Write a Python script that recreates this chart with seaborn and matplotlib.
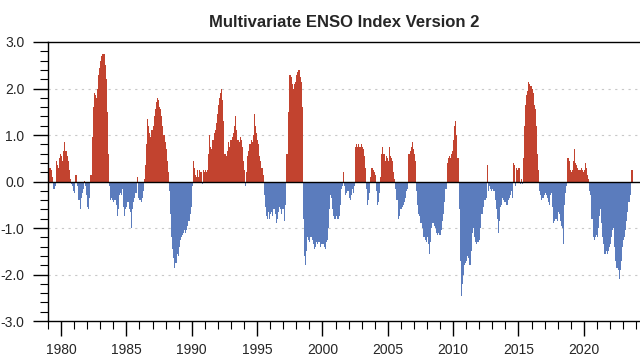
import numpy as np
import pandas as pd
import matplotlib
matplotlib.use("Agg")
import matplotlib.pyplot as plt
import seaborn as sns

# monthly MEI v2 values, Jan..Dec for each year
mei = {
    1979: [0.45, 0.30, 0.30, 0.25, 0.10, -0.15, -0.10, 0.45, 0.35, 0.30, 0.50, 0.60],
    1980: [0.55, 0.45, 0.65, 0.84, 0.65, 0.55, 0.45, 0.25, 0.05, -0.05, -0.10, -0.20],
    1981: [-0.25, 0.15, 0.15, -0.10, -0.40, -0.60, -0.35, -0.25, -0.15, 0.02, -0.10, -0.30],
    1982: [-0.55, -0.60, -0.35, 0.15, 0.95, 1.60, 1.90, 1.85, 1.80, 2.00, 2.30, 2.45],
    1983: [2.60, 2.70, 2.75, 2.75, 2.50, 2.20, 1.50, 0.60, -0.10, -0.40, -0.35, -0.40],
    1984: [-0.45, -0.40, -0.50, -0.75, -0.60, -0.30, -0.25, -0.30, -0.15, -0.55, -0.75, -0.60],
    1985: [-0.55, -0.45, -0.60, -0.65, -1.00, -0.60, -0.45, -0.35, -0.25, -0.25, 0.10, -0.35],
    1986: [-0.40, -0.45, -0.35, -0.20, 0.05, 0.35, 0.80, 1.35, 1.20, 1.05, 0.95, 1.10],
    1987: [1.20, 1.40, 1.55, 1.70, 1.80, 1.75, 1.60, 1.55, 1.40, 1.20, 1.00, 0.85],
    1988: [0.70, 0.45, 0.20, -0.20, -0.70, -1.20, -1.45, -1.65, -1.85, -1.75, -1.55, -1.60],
    1989: [-1.40, -1.25, -1.20, -1.15, -1.10, -1.05, -1.10, -1.05, -0.95, -0.85, -0.70, -0.55],
    1990: [-0.10, 0.45, 0.30, 0.15, 0.10, 0.25, 0.10, 0.25, 0.20, -0.05, 0.25, 0.20],
    1991: [0.25, 0.20, 0.25, 0.60, 1.00, 0.75, 0.70, 0.90, 1.05, 1.10, 1.25, 1.45],
    1992: [1.65, 1.80, 1.90, 2.00, 1.75, 1.30, 0.60, 0.55, 0.65, 0.85, 0.75, 0.90],
    1993: [0.90, 0.95, 1.05, 1.20, 1.40, 1.10, 0.90, 0.85, 0.95, 0.90, 0.75, 0.45],
    1994: [0.25, -0.10, 0.20, 0.55, 0.65, 0.80, 0.90, 0.85, 1.00, 1.45, 1.20, 1.05],
    1995: [0.90, 0.80, 0.55, 0.45, 0.30, 0.15, -0.30, -0.55, -0.75, -0.80, -0.65, -0.80],
    1996: [-0.70, -0.65, -0.75, -0.60, -0.70, -0.90, -0.80, -0.65, -0.55, -0.60, -0.70, -0.60],
    1997: [-0.60, -0.85, -0.50, 0.60, 1.50, 2.30, 2.30, 2.25, 2.10, 2.00, 2.10, 2.15],
    1998: [2.30, 2.35, 2.40, 2.25, 2.15, 1.60, -0.80, -1.60, -1.80, -1.50, -1.20, -1.25],
    1999: [-1.30, -1.20, -1.25, -1.35, -1.45, -1.40, -1.30, -1.35, -1.30, -1.30, -1.40, -1.35],
    2000: [-1.35, -1.40, -1.45, -1.30, -1.25, -1.00, -0.60, -0.30, -0.35, -0.60, -0.75, -0.80],
    2001: [-0.75, -0.80, -0.80, -0.75, -0.50, -0.15, -0.10, 0.20, -0.10, -0.30, -0.25, -0.20],
    2002: [-0.35, -0.40, -0.30, -0.15, -0.25, -0.10, 0.75, 0.80, 0.75, 0.80, 0.75, 0.80],
    2003: [0.75, 0.70, 0.55, 0.30, -0.15, -0.50, -0.40, -0.25, 0.10, 0.30, 0.25, 0.20],
    2004: [0.15, -0.20, -0.50, -0.45, -0.25, 0.10, 0.60, 0.75, 0.60, 0.45, 0.55, 0.50],
    2005: [0.45, 0.75, 0.55, 0.50, 0.45, 0.20, 0.05, -0.15, -0.40, -0.80, -0.75, -0.60],
    2006: [-0.60, -0.55, -0.50, -0.45, -0.35, -0.20, -0.15, 0.60, 0.65, 0.75, 0.85, 0.70],
    2007: [0.60, 0.45, -0.20, -0.50, -0.70, -0.75, -0.90, -1.00, -1.20, -1.20, -1.25, -1.30],
    2008: [-1.20, -1.35, -1.55, -1.30, -1.00, -0.90, -0.95, -1.00, -1.10, -1.15, -1.10, -1.15],
    2009: [-1.15, -1.05, -0.85, -0.70, -0.45, -0.15, 0.40, 0.50, 0.55, 0.50, 0.60, 0.65],
    2010: [0.90, 1.20, 1.30, 1.00, 0.50, -0.60, -1.70, -2.45, -2.20, -2.00, -1.80, -1.75],
    2011: [-1.70, -1.60, -1.65, -1.80, -1.50, -1.10, -1.00, -1.20, -1.30, -1.35, -1.30, -1.30],
    2012: [-1.25, -1.00, -0.70, -0.55, -0.40, -0.40, -0.35, 0.35, -0.20, -0.10, -0.15, -0.20],
    2013: [-0.15, -0.20, -0.40, -0.60, -0.80, -1.10, -0.85, -0.55, -0.50, -0.35, -0.40, -0.45],
    2014: [-0.45, -0.50, -0.40, -0.35, -0.30, -0.20, -0.35, 0.40, 0.35, -0.10, 0.30, 0.25],
    2015: [0.30, -0.05, 0.05, -0.05, 0.50, 1.20, 1.65, 1.85, 1.95, 2.15, 2.10, 2.05],
    2016: [2.00, 1.90, 1.65, 1.55, 1.20, 0.60, 0.25, -0.20, -0.30, -0.40, -0.35, -0.30],
    2017: [-0.25, -0.30, -0.35, -0.45, -0.50, -0.30, -0.25, -0.55, -0.90, -0.85, -0.80, -0.85],
    2018: [-0.65, -0.70, -0.85, -0.95, -1.00, -1.35, -0.50, -0.25, -0.10, 0.50, 0.45, 0.25],
    2019: [0.20, 0.25, 0.45, 0.70, 0.40, 0.35, 0.30, 0.25, 0.25, 0.30, 0.25, 0.20],
    2020: [0.25, 0.40, 0.30, 0.15, 0.05, -0.20, -0.30, -0.80, -1.20, -1.25, -1.20, -1.15],
    2021: [-1.20, -1.00, -0.75, -0.60, -0.90, -1.20, -1.35, -1.55, -1.50, -1.55, -1.50, -1.40],
    2022: [-1.35, -1.20, -1.05, -1.00, -1.40, -1.70, -1.85, -1.90, -2.10, -1.90, -1.70, -1.40],
    2023: [-1.25, -1.20, -1.05, -0.85, -0.65, -0.45, -0.30, 0.25, 0.25],
}

year_ticks = [1980, 1985, 1990, 1995, 2000, 2005, 2010, 2015, 2020]
y_ticks = [-3.0, -2.0, -1.0, 0.0, 1.0, 2.0, 3.0]

red = "#c2432f"
blue = "#5b7cbd"

# flatten into a monthly table
rows = []
for yr, vals in mei.items():
    for m, v in enumerate(vals):
        rows.append({"time": yr + (m + 0.5) / 12.0, "mei": v,
                     "phase": "warm" if v >= 0 else "cold"})
df = pd.DataFrame(rows)

sns.set_style("ticks")
plt.rcParams["font.family"] = ["Liberation Sans", "DejaVu Sans"]

fig = plt.figure(figsize=(6.4, 3.62), dpi=100)
ax = fig.add_axes([0.075, 0.113, 0.925, 0.771])

# dotted grid lines under the bars
for g in [-2, -1, 1, 2]:
    ax.axhline(g, color="#c8c8c8", lw=0.8, ls=(0, (2, 4)), zorder=0)

sns.barplot(data=df, x="time", y="mei", hue="phase", native_scale=True,
            dodge=False, width=1.0, linewidth=0, saturation=1,
            palette={"warm": red, "cold": blue}, errorbar=None,
            legend=False, ax=ax)

ax.axhline(0, color="black", lw=1.0, zorder=3)

ax.set_xlim(1979.0, 2024.3)
ax.set_ylim(-3.0, 3.0)
ax.set_xticks(year_ticks)
ax.set_xticklabels([str(y) for y in year_ticks])
ax.set_xticks(np.arange(1979, 2025), minor=True)
ax.set_yticks(y_ticks)
ax.set_yticklabels([f"{v:.1f}" for v in y_ticks])
ax.set_yticks(np.arange(-3.0, 3.01, 0.2), minor=True)

ax.tick_params(axis="both", which="both", bottom=True, left=True,
               top=False, right=False, direction="out", color="black")
ax.tick_params(axis="both", which="major", length=11, width=1.0,
               labelsize=10)
ax.tick_params(axis="both", which="minor", length=6, width=0.8)
ax.tick_params(axis="y", which="major", pad=6)
ax.tick_params(axis="x", which="major", pad=5)

ax.set_xlabel("")
ax.set_ylabel("")
for side in ["left", "bottom", "top"]:
    ax.spines[side].set_color("black")
    ax.spines[side].set_linewidth(1.0)
ax.spines["right"].set_visible(False)

ax.set_title("Multivariate ENSO Index Version 2", fontsize=12,
             fontweight="bold", pad=11)

fig.savefig("out.png", dpi=100)
